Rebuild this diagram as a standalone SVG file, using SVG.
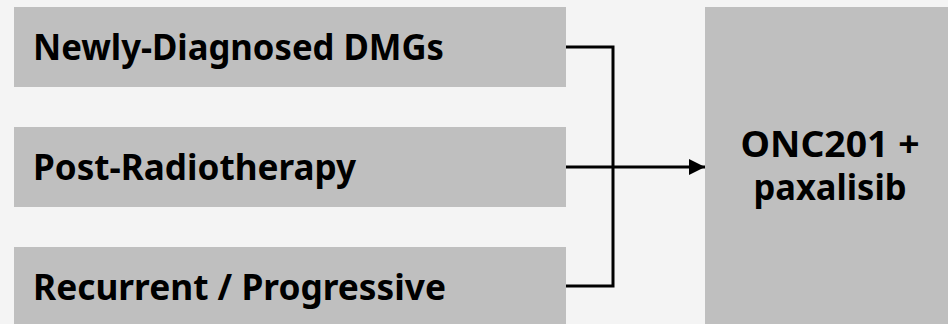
<svg xmlns="http://www.w3.org/2000/svg" width="948" height="324" viewBox="0 0 948 324">
  <style>
    .box { fill: #bfbfbf; }
    .label { font-family: "Noto Sans", "DejaVu Sans", sans-serif; font-weight: bold; font-size: 35px; fill: #000; }
    .wire { fill: none; stroke: #000; stroke-width: 3; }
  </style>
  <defs>
    <marker id="arrow" markerUnits="userSpaceOnUse" markerWidth="16" markerHeight="16" refX="16" refY="8" orient="auto">
      <path d="M0,0 L16,8 L0,16 Z" fill="#000"/>
    </marker>
  </defs>
  <rect width="948" height="324" fill="#f4f4f4"/>

  <g id="node-newly-diagnosed">
    <rect class="box" x="14" y="7" width="552" height="80"/>
    <text class="label" x="33" y="60" textLength="411" lengthAdjust="spacingAndGlyphs">Newly-Diagnosed DMGs</text>
  </g>
  <g id="node-post-radiotherapy">
    <rect class="box" x="14" y="127" width="552" height="80"/>
    <text class="label" x="33" y="180" textLength="323" lengthAdjust="spacingAndGlyphs">Post-Radiotherapy</text>
  </g>
  <g id="node-recurrent">
    <rect class="box" x="14" y="247" width="552" height="80"/>
    <text class="label" x="33" y="300" textLength="413" lengthAdjust="spacingAndGlyphs">Recurrent / Progressive</text>
  </g>
  <g id="node-treatment">
    <rect class="box" x="705" y="7" width="243" height="320"/>
    <text class="label" x="830" y="157" text-anchor="middle" textLength="179" lengthAdjust="spacingAndGlyphs">ONC201 +</text>
    <text class="label" x="830" y="200" text-anchor="middle" textLength="153" lengthAdjust="spacingAndGlyphs">paxalisib</text>
  </g>

  <g id="connectors">
    <polyline class="wire" points="566,47 613,47 613,286 566,286"/>
    <line class="wire" x1="566" y1="167" x2="705" y2="167" marker-end="url(#arrow)"/>
  </g>
</svg>
